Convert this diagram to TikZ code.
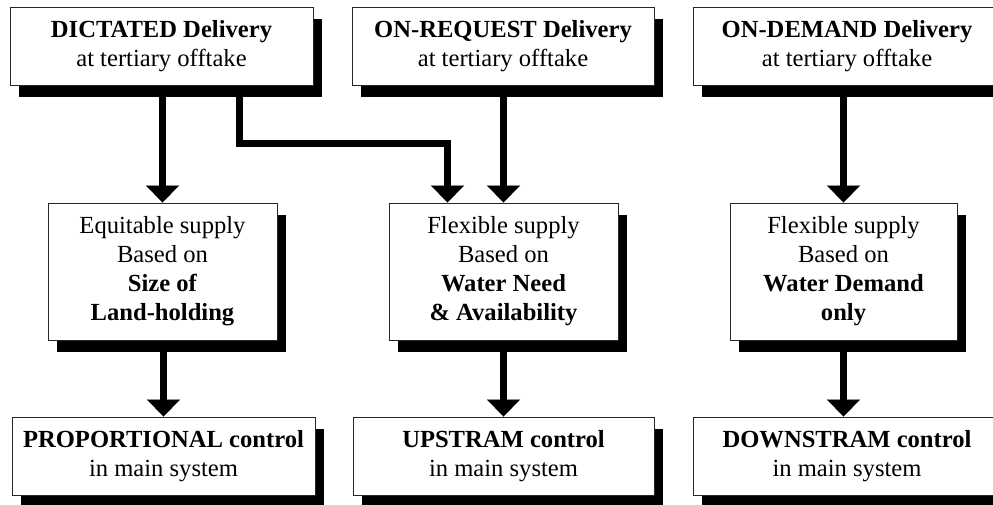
\documentclass[tikz,border=0pt]{standalone}
\usepackage{fontspec}
\setmainfont{Liberation Serif}
\usetikzlibrary{arrows.meta,shadows}

\tikzset{
  card/.style={draw=black!85, line width=1pt, fill=white, inner sep=0pt,
    align=center, font=\fontsize{24.6}{29}\selectfont,
    drop shadow={shadow xshift=9pt, shadow yshift=-12pt, fill=black, opacity=1}},
  wide/.style={card, minimum width=303pt, minimum height=78pt},
  mid/.style={card, minimum width=229pt, minimum height=137pt},
  flow/.style={line width=7pt,
    -{Triangle[length=17pt 0 0, width=33pt 0 0, line width=0.01pt]}}
}

\begin{document}
\begin{tikzpicture}[x=1pt, y=-1pt]
\useasboundingbox (0,0) rectangle (993,504);
\clip (0,0) rectangle (993,504);

% delivery modes
\node[wide] (t1) at (161.5,46) {\textbf{DICTATED Delivery}\\at tertiary offtake};
\node[wide, minimum width=302pt] (t2) at (503,46) {\textbf{ON-REQUEST Delivery}\\at tertiary offtake};
\node[wide, minimum width=308pt] (t3) at (847,46) {\textbf{ON-DEMAND Delivery}\\at tertiary offtake};

% supply principles
\node[mid] (mA) at (162.5,271.5) {Equitable supply\\Based on\\\textbf{Size of}\\\textbf{Land-holding}};
\node[mid] (mB) at (503.5,271.5) {Flexible supply\\Based on\\\textbf{Water Need}\\\textbf{\& Availability}};
\node[mid, minimum width=227pt] (mC) at (843.5,271.5) {Flexible supply\\Based on\\\textbf{Water Demand}\\\textbf{only}};

% control in the main system
\node[wide] (bP) at (163.5,456) {\textbf{PROPORTIONAL control}\\in main system};
\node[wide, minimum width=301pt] (bU) at (503.5,456) {\textbf{UPSTRAM control}\\in main system};
\node[wide, minimum width=308pt] (bD) at (847,456) {\textbf{DOWNSTRAM control}\\in main system};

% connectors
\coordinate (split) at (239,143);
\draw[flow] (mA.north |- t1.south) -- (mA.north);
\draw[flow] (t1.south -| split) -- (split) -| ([xshift=-56pt]mB.north);
\draw[flow] (mB.north |- t2.south) -- (mB.north);
\draw[flow] (mC.north |- t3.south) -- (mC.north);

\draw[flow] (bP.north |- mA.south) -- (bP.north);
\draw[flow] (bU.north |- mB.south) -- (bU.north);
\draw[flow] (mC.south) -- (mC.south |- bD.north);
\end{tikzpicture}
\end{document}
